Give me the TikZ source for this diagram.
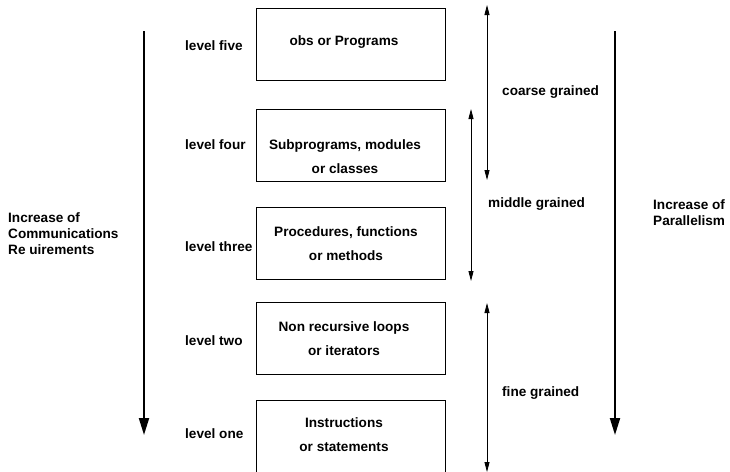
\documentclass[tikz,border=0pt]{standalone}
\usepackage{fontspec}
\setmainfont{Liberation Sans}
\usetikzlibrary{arrows.meta}

\tikzset{
	lvlbox/.style={draw, line width=0.8pt, minimum width=189pt, minimum height=72pt},
	boxtext/.style={font=\bfseries\fontsize{13.6}{24}\selectfont, align=center},
	lbl/.style={font=\bfseries\fontsize{13.6}{16}\selectfont, anchor=west, align=left, inner sep=0pt},
	bigarrow/.style={line width=2pt, -{Triangle[width=10pt,length=17pt]}},
	grainarrow/.style={line width=0.8pt, {Triangle[width=5pt,length=10pt]}-{Triangle[width=5pt,length=10pt]}}
}

\begin{document}
\begin{tikzpicture}[x=1pt,y=-1pt]
	\useasboundingbox (0,0) rectangle (730,471);
	\clip (0,0) rectangle (730,471);
	
	% the five levels
	\foreach \n/\y/\ly in {five/44/46, four/145/145, three/243/247, two/338/341, one/436/434}
	{
		\node[lvlbox] (box\n) at (350.5,\y) {};
		\node[lbl] (lvl\n) at (185,\ly) {level \n};
	}
	
	\node[boxtext] (txtfive) at (344,42) {obs or Programs};
	\node[boxtext] (txtfour) at (345,156.5) {Subprograms, modules\\or classes};
	\node[boxtext] (txtthree) at (346,243.5) {Procedures, functions\\or methods};
	\node[boxtext] (txttwo) at (344,339) {Non recursive loops\\or iterators};
	\node[boxtext] (txtone) at (344,435) {Instructions\\or statements};
	
	% side texts
	\node[lbl] (comm) at (8,234) {Increase of\\Communications\\Re uirements};
	\node[lbl] (para) at (653,213) {Increase of\\Parallelism};
	
	\node[lbl] (coarse) at (502,92) {coarse grained};
	\node[lbl] (middle) at (488,204) {middle grained};
	\node[lbl] (fine) at (502,393) {fine grained};
	
	% arrows
	\coordinate (commtop) at (144,31);
	\coordinate (commend) at (144,435);
	\coordinate (paratop) at (615,31);
	\coordinate (paraend) at (615,435);
	\draw[bigarrow] (commtop) -- (commend);
	\draw[bigarrow] (paratop) -- (paraend);
	
	\coordinate (coarsetop) at (487,5);
	\coordinate (coarseend) at (487,180);
	\coordinate (middletop) at (471,109);
	\coordinate (middleend) at (471,281);
	\coordinate (finetop) at (487,303);
	\coordinate (fineend) at (487,472);
	\draw[grainarrow] (coarsetop) -- (coarseend);
	\draw[grainarrow] (middletop) -- (middleend);
	\draw[grainarrow] (finetop) -- (fineend);
	%\draw (0,0) rectangle (730,471);
\end{tikzpicture}
\end{document}
